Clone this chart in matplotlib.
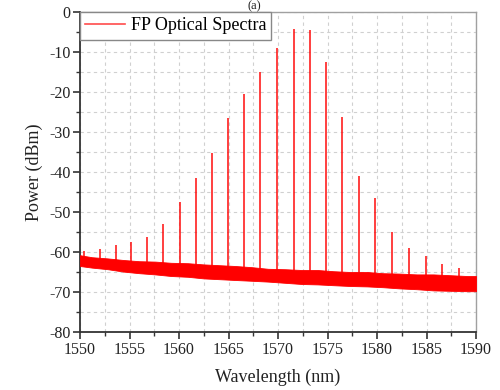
import matplotlib
matplotlib.use("Agg")
import matplotlib.pyplot as plt
from matplotlib.ticker import MultipleLocator
import numpy as np

# Peak wavelengths (nm) and peak powers (dBm)
peak_wl = [1550.4, 1552.0, 1553.6, 1555.2, 1556.8, 1558.4, 1560.1, 1561.7,
           1563.3, 1564.9, 1566.6, 1568.2, 1569.9, 1571.6, 1573.2, 1574.8,
           1576.5, 1578.2, 1579.8, 1581.5, 1583.2, 1584.9, 1586.6, 1588.3]
peak_dbm = [-59.8, -59.2, -58.3, -57.5, -56.2, -52.9, -47.5, -41.6,
            -35.3, -26.4, -20.4, -15.1, -9.1, -4.3, -4.5, -12.6,
            -26.3, -41.0, -46.6, -54.9, -59.1, -61.0, -62.9, -64.1]

# Noise floor envelope (read at gaps between modes)
floor_wl = [1550.0, 1551.2, 1552.8, 1554.4, 1556.0, 1557.6, 1559.2, 1560.9,
            1562.5, 1564.1, 1565.7, 1567.4, 1569.0, 1570.7, 1572.4, 1574.0,
            1575.6, 1577.3, 1579.0, 1580.6, 1582.3, 1584.0, 1585.7, 1587.4,
            1589.1, 1590.0]
floor_top = [-60.8, -61.3, -61.6, -62.0, -62.3, -62.4, -62.7, -62.8,
             -63.1, -63.3, -63.5, -63.8, -64.2, -64.3, -64.5, -64.5,
             -64.8, -65.0, -65.0, -65.3, -65.4, -65.6, -65.6, -65.8,
             -66.0, -66.0]
floor_bot = [-63.5, -63.9, -64.3, -64.9, -65.3, -65.6, -66.0, -66.2,
             -66.6, -66.8, -67.0, -67.2, -67.4, -67.7, -68.0, -68.1,
             -68.3, -68.5, -68.6, -68.8, -69.1, -69.3, -69.6, -69.7,
             -69.8, -69.8]

x_ticks = [1550, 1555, 1560, 1565, 1570, 1575, 1580, 1585, 1590]
y_ticks = [0, -10, -20, -30, -40, -50, -60, -70, -80]

plt.rcParams['font.family'] = ['Liberation Serif', 'DejaVu Serif']
plt.rcParams['axes.unicode_minus'] = False

fig = plt.figure(figsize=(5, 3.9), dpi=100)
ax = fig.add_axes([0.16, 0.1487, 0.792, 0.8205])

red = '#ff0000'
ax.fill_between(floor_wl, floor_bot, floor_top, color=red, linewidth=0.6, zorder=3)

base = np.interp(peak_wl, floor_wl, floor_top)
ax.vlines(peak_wl, base - 0.5, peak_dbm, color=red, linewidth=1.4, alpha=0.75, zorder=4)

# legend handle
ax.plot([], [], color=red, linewidth=1.2, alpha=0.7, label='FP Optical Spectra')
leg = ax.legend(loc='upper left', borderaxespad=0, fontsize=13, fancybox=False,
                framealpha=1, edgecolor='#888888', handlelength=2.2,
                borderpad=0.3, handletextpad=0.3)
leg.get_frame().set_linewidth(1.0)

ax.set_xlim(1550, 1590)
ax.set_ylim(-80, 0)
ax.set_xticks(x_ticks)
ax.set_yticks(y_ticks)
ax.xaxis.set_minor_locator(MultipleLocator(2.5))
ax.yaxis.set_minor_locator(MultipleLocator(5))
ax.tick_params(which='major', direction='out', length=5, width=1.2, labelsize=11.5,
               colors='#333333', labelcolor='#222222', pad=2)
ax.tick_params(which='minor', direction='out', length=3, width=1.0, colors='#333333')

ax.grid(True, which='both', linestyle=(0, (3, 3)), color='#d0d0d0', linewidth=0.8, zorder=0)
ax.set_axisbelow(True)

for s in ['left', 'bottom']:
    ax.spines[s].set_color('#333333')
    ax.spines[s].set_linewidth(1.3)
for s in ['top', 'right']:
    ax.spines[s].set_color('#a0a0a0')
    ax.spines[s].set_linewidth(1.0)

ax.set_xlabel('Wavelength (nm)', fontsize=13, color='#222222', labelpad=8)
ax.set_ylabel('Power (dBm)', fontsize=13, color='#222222', labelpad=4)

fig.text(0.508, 0.999, '(a)', fontsize=9, ha='center', va='top', color='#222222')

fig.savefig('out.png', dpi=100)
